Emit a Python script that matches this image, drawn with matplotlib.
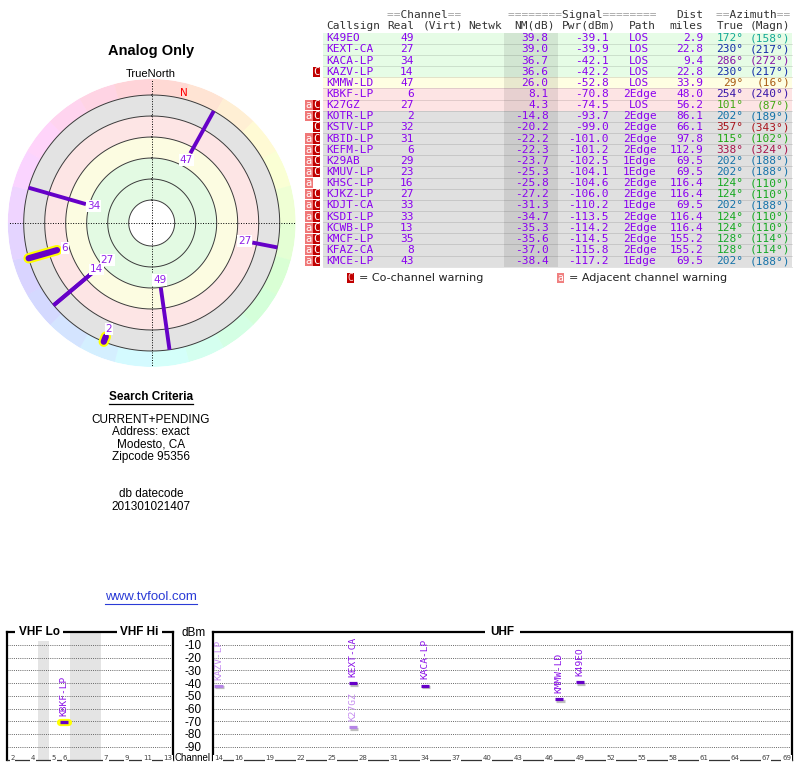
import numpy as np
import matplotlib
matplotlib.use("Agg")
import matplotlib.pyplot as plt
import matplotlib.patheffects as pe
from matplotlib.patches import Rectangle
import colorsys

# ---------------- data ----------------
callsigns = ["K49EO", "KEXT-CA", "KACA-LP", "KAZV-LP", "KMMW-LD", "KBKF-LP", "K27GZ",
             "KOTR-LP", "KSTV-LP", "KBID-LP", "KEFM-LP", "K29AB", "KMUV-LP", "KHSC-LP",
             "KJKZ-LP", "KDJT-CA", "KSDI-LP", "KCWB-LP", "KMCF-LP", "KFAZ-CA", "KMCE-LP"]
real_ch = [49, 27, 34, 14, 47, 6, 27, 2, 32, 31, 6, 29, 23, 16, 27, 33, 33, 13, 35, 8, 43]
nm_db = [39.8, 39.0, 36.7, 36.6, 26.0, 8.1, 4.3, -14.8, -20.2, -22.2, -22.3, -23.7, -25.3,
         -25.8, -27.2, -31.3, -34.7, -35.3, -35.6, -37.0, -38.4]
pwr_dbm = [-39.1, -39.9, -42.1, -42.2, -52.8, -70.8, -74.5, -93.7, -99.0, -101.0, -101.2,
           -102.5, -104.1, -104.6, -106.0, -110.2, -113.5, -114.2, -114.5, -115.8, -117.2]
path_type = ["LOS", "LOS", "LOS", "LOS", "LOS", "2Edge", "LOS", "2Edge", "2Edge", "2Edge",
             "2Edge", "1Edge", "1Edge", "2Edge", "2Edge", "1Edge", "2Edge", "2Edge", "2Edge",
             "2Edge", "1Edge"]
dist_miles = [2.9, 22.8, 9.4, 22.8, 33.9, 48.0, 56.2, 86.1, 66.1, 97.8, 112.9, 69.5, 69.5,
              116.4, 116.4, 69.5, 116.4, 116.4, 155.2, 155.2, 69.5]
az_true = [172, 230, 286, 230, 29, 254, 101, 202, 357, 115, 338, 202, 202, 124, 124, 202,
           124, 124, 128, 128, 202]
az_magn = [158, 217, 272, 217, 16, 240, 87, 189, 343, 102, 324, 188, 188, 110, 110, 188,
           110, 110, 114, 114, 188]
co_channel = [0, 0, 0, 1, 0, 0, 1, 1, 1, 1, 1, 1, 1, 0, 1, 1, 1, 1, 1, 1, 1]
adj_channel = [0, 0, 0, 0, 0, 0, 1, 1, 0, 1, 1, 1, 1, 1, 1, 1, 1, 1, 1, 1, 1]
analog = [0, 0, 0, 0, 0, 1, 0, 1, 0, 0, 0, 0, 0, 0, 0, 0, 0, 0, 0, 0, 0]

page_title = "Analog Only"
search_lines = ["CURRENT+PENDING", "Address: exact", "Modesto, CA", "Zipcode 95356"]
datecode_lines = ["db datecode", "201301021407"]
site_url = "www.tvfool.com"

vhf_ticks = [2, 4, 5, 6, 7, 9, 11, 13]
uhf_ticks = [14, 16, 19, 22, 25, 28, 31, 34, 37, 40, 43, 46, 49, 52, 55, 58, 61, 64, 67, 69]
dbm_levels = [-10, -20, -30, -40, -50, -60, -70, -80, -90]
nm_rings = [-20, 0, 20, 40, 60, 80]
nm_bands = [(-20, 0, "#e3e3e3"), (0, 20, "#fde5e5"), (20, 40, "#fcfce1"), (40, 80, "#e3fae3")]

# ---------------- styling ----------------
W, H = 800, 768
MONO = "DejaVu Sans Mono"
SANS = "Liberation Sans"
PURPLE_TXT = "#8a00f0"
LINE_PURPLE = "#6600c8"
fig = plt.figure(figsize=(W / 100, H / 100), dpi=100)

ov = fig.add_axes([0, 0, 1, 1])
ov.set_xlim(0, W)
ov.set_ylim(H, 0)
ov.axis("off")


def az_color(a, s=0.88, v=0.66):
    return colorsys.hsv_to_rgb((a % 360) / 360.0, s, v)


def row_color(nm):
    if nm >= 30:
        return "#e6fce6"
    if nm >= 15:
        return "#fefee2"
    if nm >= 0:
        return "#fde4e4"
    return "#e0e0e0"


# ---------------- table ----------------
ROW_TOP, ROW_H = 32.7, 11.14
TBL_L, TBL_R = 323, 792
NM_L, NM_R = 504, 558
FS = 8


def two_tone(x, y, s, ha="left"):
    eq = "".join(c if c == "=" else " " for c in s)
    wd = "".join(" " if c == "=" else c for c in s)
    ov.text(x, y, eq, family=MONO, fontsize=FS, color="#a0a0a0", ha=ha, va="center")
    ov.text(x, y, wd, family=MONO, fontsize=FS, color="#333333", ha=ha, va="center")


two_tone(387, 15, "==Channel==")
two_tone(508, 15, "========Signal========")
two_tone(703.5, 15, "Dist", ha="right")
two_tone(790.5, 15, "==Azimuth==", ha="right")
hdr2 = [(326, "Callsign", "left"), (387, "Real", "left"), (423, "(Virt)", "left"),
        (468, "Netwk", "left"), (555, "NM(dB)", "right"), (615.5, "Pwr(dBm)", "right"),
        (642, "Path", "center"), (703.5, "miles", "right"), (743.5, "True", "right"),
        (790.5, "(Magn)", "right")]
for x, s, ha in hdr2:
    two_tone(x, 25.7, s, ha=ha)

for i, cs in enumerate(callsigns):
    top = ROW_TOP + i * ROW_H
    yc = top + ROW_H / 2
    ov.add_patch(Rectangle((TBL_L, top), TBL_R - TBL_L, ROW_H, fc=row_color(nm_db[i]), ec="none"))
    ov.add_patch(Rectangle((NM_L, top), NM_R - NM_L, ROW_H, fc="black", alpha=0.085, ec="none"))
    ov.plot([TBL_L, TBL_R], [top + ROW_H, top + ROW_H], color="black", alpha=0.13, lw=0.6)
    kw = dict(family=MONO, fontsize=FS, color=PURPLE_TXT, va="center")
    ov.text(326, yc, cs, ha="left", **kw)
    ov.text(413.5, yc, str(real_ch[i]), ha="right", **kw)
    ov.text(548.5, yc, f"{nm_db[i]:.1f}", ha="right", **kw)
    ov.text(608.5, yc, f"{pwr_dbm[i]:.1f}", ha="right", **kw)
    ov.text(639.5, yc, path_type[i], ha="center", **kw)
    ov.text(703.5, yc, f"{dist_miles[i]:.1f}", ha="right", **kw)
    ac = az_color(az_true[i])
    ov.text(743.5, yc, f"{az_true[i]}°", ha="right", family=MONO, fontsize=FS, color=ac, va="center")
    ov.text(790.5, yc, f"({az_magn[i]}°)", ha="right", family=MONO, fontsize=FS, color=ac, va="center")
    if co_channel[i]:
        ov.add_patch(Rectangle((312.7, top + 0.5), 7.3, ROW_H - 1, fc="#c00000", ec="none"))
        ov.text(316.4, yc, "C", family=MONO, fontsize=7.5, color="white", ha="center", va="center")
    if adj_channel[i]:
        ov.add_patch(Rectangle((305.2, top + 0.5), 7.5, ROW_H - 1, fc="#f07878", ec="none"))
        ov.text(309.0, yc, "a", family=MONO, fontsize=7.5, color="white", ha="center", va="center")

# legend for warnings
LEG_Y = 277.7
ov.add_patch(Rectangle((346.7, LEG_Y - 5), 6.8, 10.5, fc="#c00000", ec="none"))
ov.text(350.1, LEG_Y, "C", family=MONO, fontsize=7, color="#ffd0d0", ha="center", va="center")
ov.text(359, LEG_Y, "= Co-channel warning", family="DejaVu Sans", fontsize=8, color="#222222", va="center")
ov.add_patch(Rectangle((557.3, LEG_Y - 5), 6.5, 10.5, fc="#f08080", ec="none"))
ov.text(560.5, LEG_Y, "a", family=MONO, fontsize=7, color="white", ha="center", va="center")
ov.text(569, LEG_Y, "= Adjacent channel warning", family="DejaVu Sans", fontsize=8, color="#222222", va="center")

# ---------------- left texts ----------------
ov.text(151, 51, page_title, family=SANS, fontsize=10.5, weight="bold", ha="center", va="center")
ov.text(151, 74, "TrueNorth", family=SANS, fontsize=8, ha="center", va="center")
t_sc = ov.text(151, 397, "Search Criteria", family=SANS, fontsize=8.5, weight="bold", ha="center", va="center")
for k, s in enumerate(search_lines):
    ov.text(151, 420 + k * 12.3, s, family=SANS, fontsize=8.5, ha="center", va="center")
for k, s in enumerate(datecode_lines):
    ov.text(151, 494.3 + k * 12.4, s, family=SANS, fontsize=8.5, ha="center", va="center")
t_url = ov.text(151, 597.5, site_url, family=SANS, fontsize=9.5, color="#2b3bd6", ha="center", va="center")

# ---------------- polar chart ----------------
CX, CY, R_PX = 151.7, 223.0, 144.0
PX_PER_DB = 1.05
R_ZERO = 107.0
NM_CENTER = R_ZERO / PX_PER_DB
NM_EDGE = (R_ZERO - R_PX) / PX_PER_DB
axp = fig.add_axes([(CX - R_PX) / W, 1 - (CY + R_PX) / H, 2 * R_PX / W, 2 * R_PX / H],
                   projection="polar")
axp.set_theta_zero_location("N")
axp.set_theta_direction(-1)
axp.set_ylim(NM_CENTER, NM_EDGE)
axp.axis("off")

n_seg = 24
seg_deg = np.arange(n_seg) * 15 + 7.5
seg_cols = [colorsys.hsv_to_rgb((d / 360.0) % 1, 0.17, 1.0) for d in seg_deg]
axp.bar(np.deg2rad(seg_deg), NM_EDGE - nm_rings[0], width=np.deg2rad(15.2), bottom=nm_rings[0],
        color=seg_cols, edgecolor="none")
for lo, hi, c in nm_bands:
    axp.bar(0, hi - lo, width=2 * np.pi, bottom=lo, color=c, edgecolor="none")
axp.bar(0, NM_CENTER - nm_rings[-1], width=2 * np.pi, bottom=nm_rings[-1], color="white", edgecolor="none")

th_grid = np.linspace(0, 2 * np.pi, 361)
for lv in nm_rings:
    axp.plot(th_grid, np.full_like(th_grid, lv), color="#3a3a3a", lw=0.7)
for d in (0, 90, 180, 270):
    axp.plot([np.deg2rad(d)] * 2, [NM_CENTER, NM_EDGE], color="black", lw=0.7,
             ls=(0, (1, 1.6)), clip_on=False)

drawn = [i for i in range(len(callsigns)) if nm_db[i] > nm_rings[0]]
for i in drawn:
    th = np.deg2rad(az_true[i])
    if analog[i]:
        axp.plot([th, th], [nm_db[i], nm_rings[0]], color="#ffff00", lw=7.5, solid_capstyle="round")
        axp.plot([th, th], [nm_db[i], nm_rings[0]], color=LINE_PURPLE, lw=4.5, solid_capstyle="round")
    else:
        axp.plot([th, th], [nm_db[i], nm_rings[0]], color=LINE_PURPLE, lw=2.8, solid_capstyle="butt")

LABEL_GAP = 7.6
placed = []
for i in sorted(drawn, key=lambda j: -nm_db[j]):
    lr = nm_db[i] + LABEL_GAP
    for a, r in placed:
        if a == az_true[i] and abs(r - lr) < 10:
            lr = r - 13.5
    placed.append((az_true[i], lr))
    axp.text(np.deg2rad(az_true[i]), lr, str(real_ch[i]), color="#9020e8", fontsize=7.5,
             family="DejaVu Sans", ha="center", va="center",
             bbox=dict(fc="white", ec="none", pad=0.6), zorder=5)

decl = az_true[0] - az_magn[0]
axp.text(np.deg2rad(decl), (R_ZERO - 134) / PX_PER_DB, "N", color="red", fontsize=7.5,
         family="DejaVu Sans", ha="center", va="center")

# ---------------- spectrum charts ----------------
AX_TOP, AX_BOT = 632.0, 759.5
VHF_L, VHF_R = 7.3, 173.3
UHF_L, UHF_R = 213.3, 791.7


def vhf_slot(ch):
    # channels 2-4, gap, 5-6, FM gap (3 slots), 7-13
    if ch <= 4:
        return ch - 2 + 0.5
    if ch <= 6:
        return ch - 5 + 4.5
    return ch - 7 + 9.5


axv = fig.add_axes([VHF_L / W, 1 - AX_BOT / H, (VHF_R - VHF_L) / W, (AX_BOT - AX_TOP) / H])
axu = fig.add_axes([UHF_L / W, 1 - AX_BOT / H, (UHF_R - UHF_L) / W, (AX_BOT - AX_TOP) / H])
axv.set_xlim(0, 16)
axu.set_xlim(13.5, 69.5)
axv.axvspan(3, 4, color="#e4e4e4", lw=0)
axv.axvspan(6, 9, color="#e4e4e4", lw=0)

for ax, ticks, conv in ((axv, vhf_ticks, vhf_slot), (axu, uhf_ticks, lambda c: c)):
    ax.set_ylim(-100, 0)
    ax.set_xticks([])
    for lv in dbm_levels:
        ax.axhline(lv, color="#666666", lw=0.7, ls=(0, (1, 1.2)), zorder=1)
    for s in ("left", "right", "top"):
        ax.spines[s].set_linewidth(1.6)
        ax.spines[s].set_color("black")
    ax.spines["bottom"].set_linewidth(0.9)
    ax.spines["bottom"].set_color("#333333")
    for c in ticks:
        ax.text(conv(c), -99.2, str(c), fontsize=5, color="#444444", ha="center", va="center",
                family="DejaVu Sans", bbox=dict(fc="white", ec="none", pad=0.4), zorder=6)

axv.set_yticks([])
axu.set_yticks([0] + dbm_levels)
axu.set_yticklabels(["dBm"] + [str(v) for v in dbm_levels], family=SANS, fontsize=8.5)
axu.tick_params(axis="y", length=0, pad=14.3)
for lbl in axu.get_yticklabels():
    lbl.set_horizontalalignment("center")

title_kw = dict(family=SANS, fontsize=8.5, weight="bold", ha="center", va="center",
                bbox=dict(fc="white", ec="none", pad=2.5), zorder=7, clip_on=False)
axv.text(0.192, 1.0, "VHF Lo", transform=axv.transAxes, **title_kw)
axv.text(0.797, 1.0, "VHF Hi", transform=axv.transAxes, **title_kw)
axu.text(0.5, 1.0, "UHF", transform=axu.transAxes, **{**title_kw, "bbox": dict(fc="white", ec="none", pad=4)})
ov.text(210.5, 758.3, "Channel", family=SANS, fontsize=7, ha="right", va="center")

shown = [i for i in range(len(callsigns)) if nm_db[i] > 0]
for i in shown:
    ch = real_ch[i]
    ax = axv if ch <= 13 else axu
    x = vhf_slot(ch) if ch <= 13 else ch
    y = pwr_dbm[i]
    light = co_channel[i] == 1
    mcol = "#b584e6" if light else LINE_PURPLE
    tcol = "#c58cf0" if light else "#8a10e8"
    if analog[i]:
        ax.plot([x - 0.38, x + 0.38], [y, y], color="#ffff00", lw=5.2, solid_capstyle="round", zorder=3)
        ax.plot([x - 0.38, x + 0.38], [y, y], color=mcol, lw=2.4, solid_capstyle="butt", zorder=4)
    else:
        ax.plot([x - 0.4, x + 0.4], [y, y], color=mcol, lw=2.3, solid_capstyle="butt", zorder=4,
                path_effects=[pe.SimpleLineShadow(offset=(0.8, -1.2), shadow_color="gray", alpha=0.5),
                              pe.Normal()])
    ax.annotate(callsigns[i], (x, y), xytext=(0, 4.5), textcoords="offset points", rotation=90,
                ha="center", va="bottom", fontsize=6.8, family=MONO, color=tcol, zorder=5)

# underlines computed from rendered text extents
fig.canvas.draw()
inv = ov.transData.inverted()
for t, col, lw in ((t_sc, "black", 0.9), (t_url, "#2b3bd6", 0.8)):
    bb = t.get_window_extent()
    (x0, y0), (x1, y1) = inv.transform([[bb.x0, bb.y0], [bb.x1, bb.y1]])
    ov.plot([x0, x1], [y0 + 0.5, y0 + 0.5], color=col, lw=lw)

fig.savefig("out.png", dpi=100)
